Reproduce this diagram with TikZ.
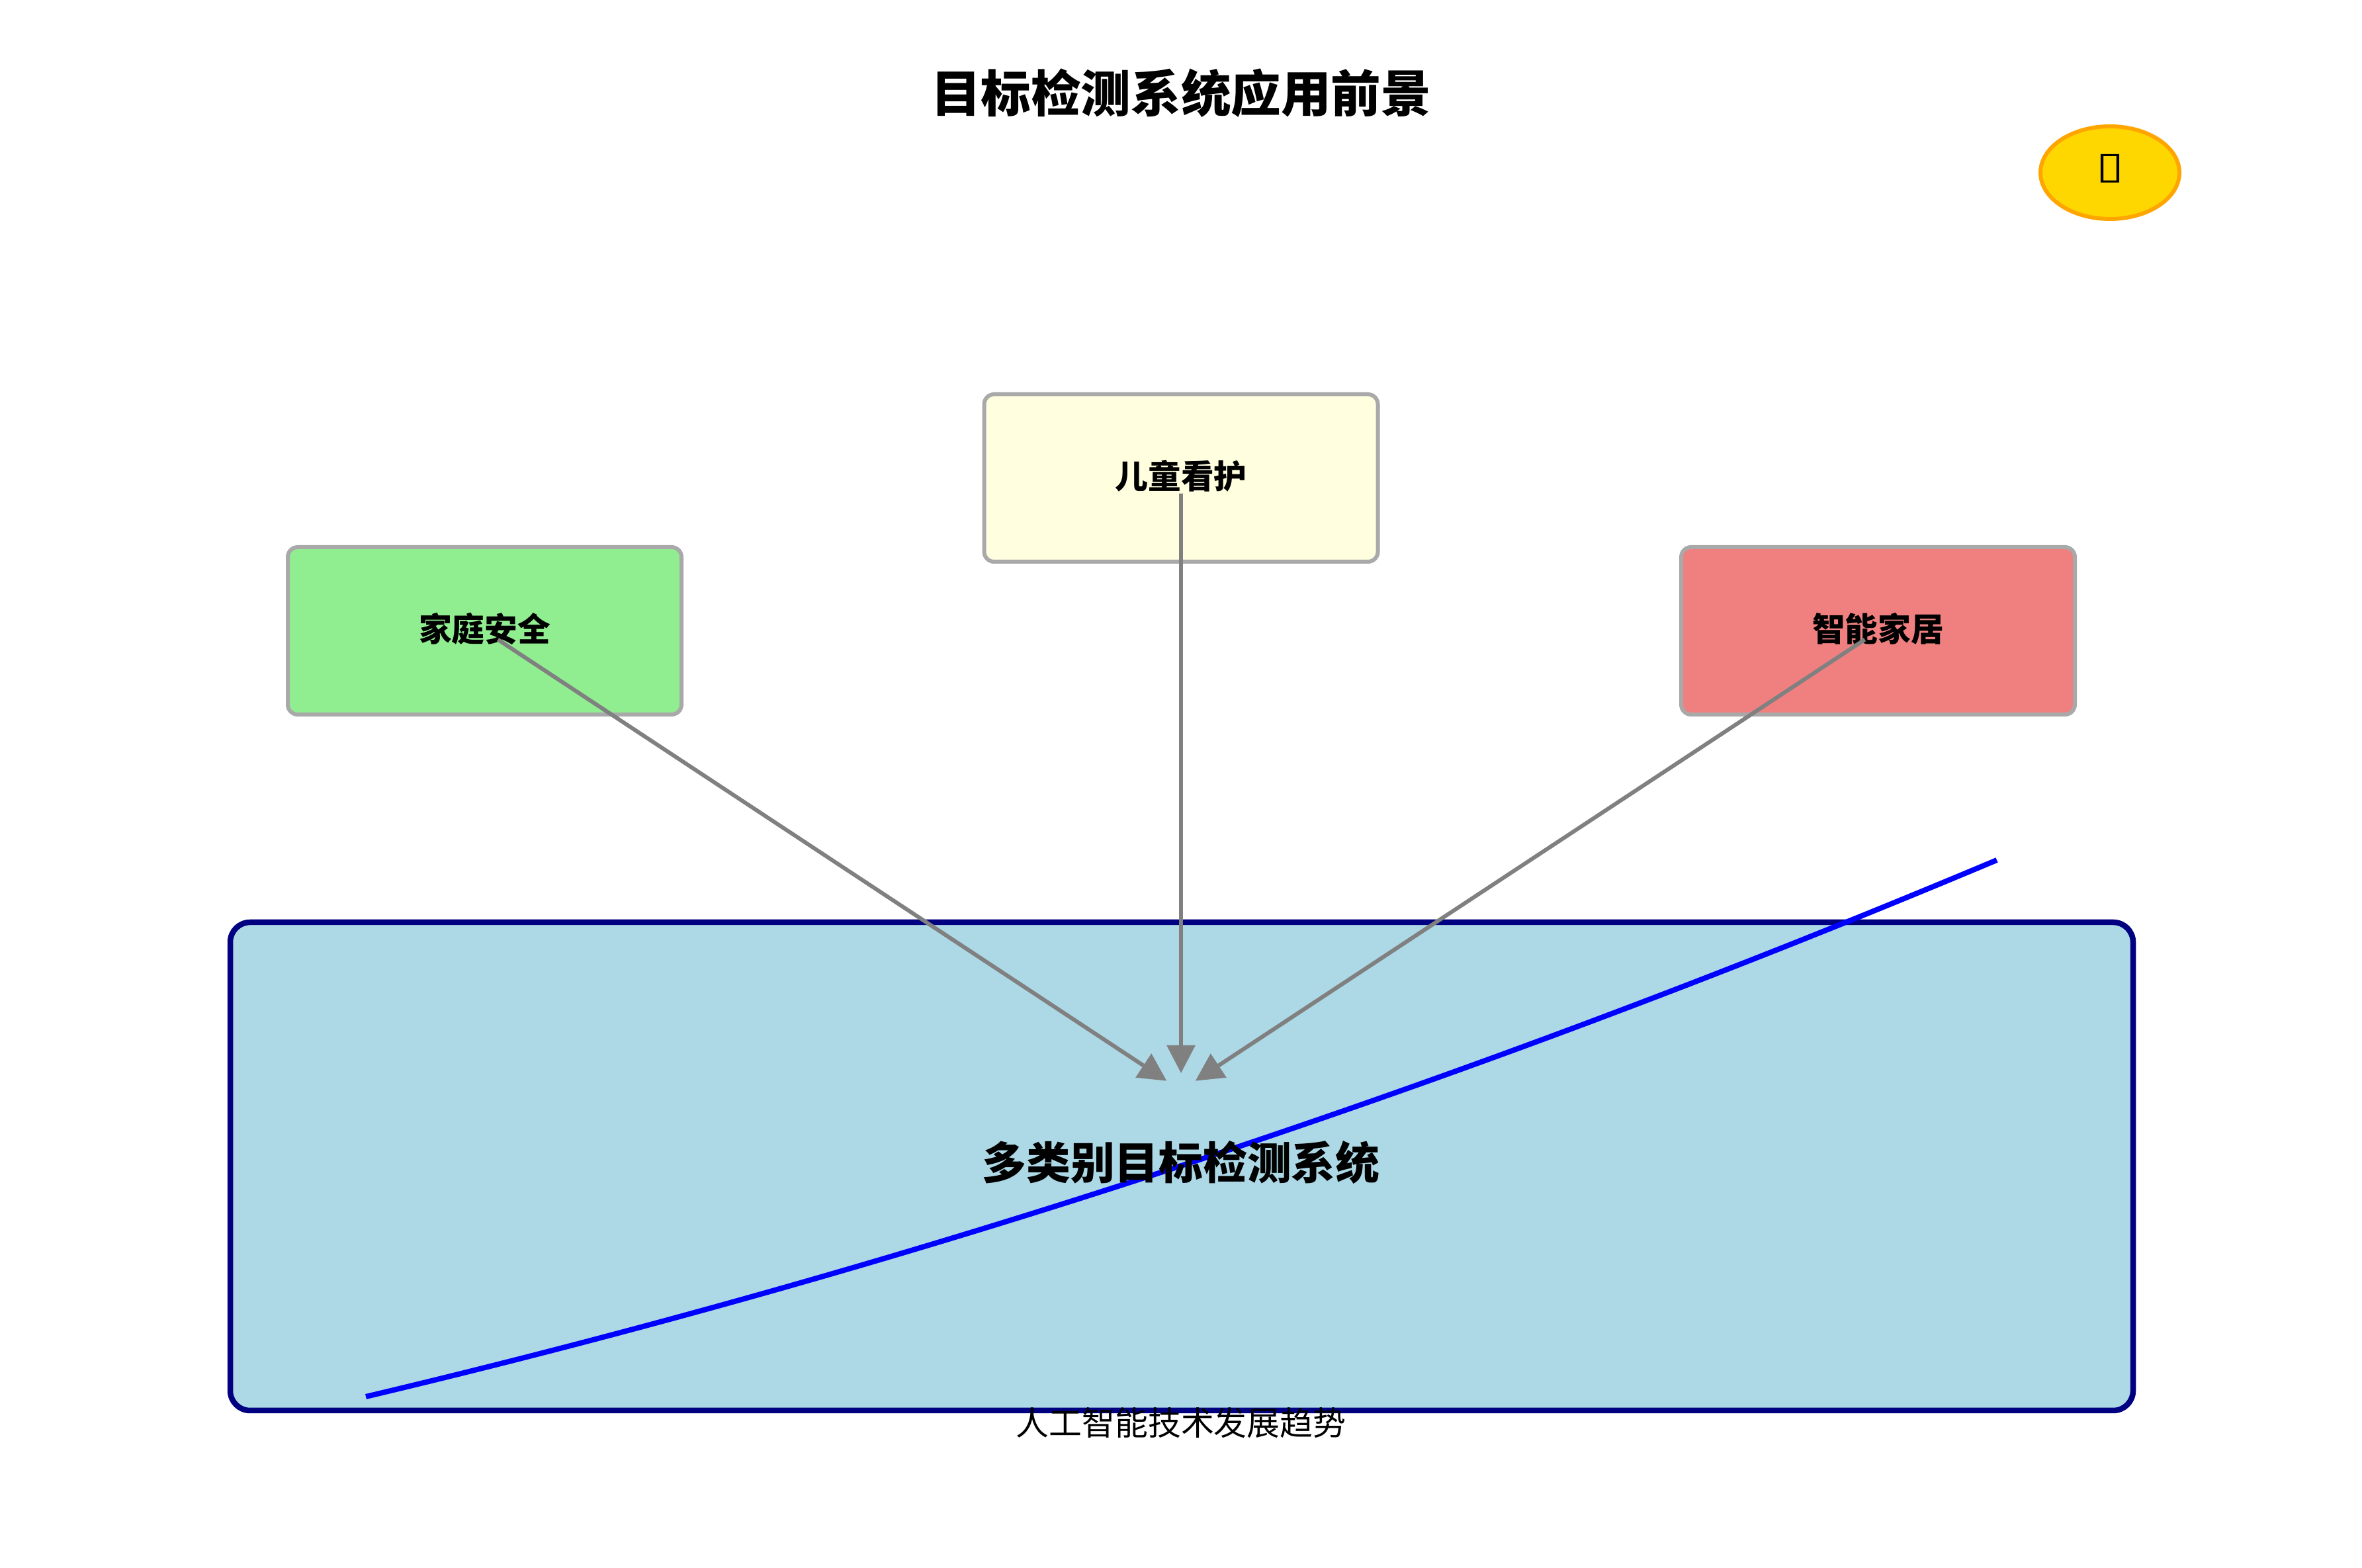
\documentclass[tikz,border=0pt]{standalone}
\usepackage{fontspec}
\usepackage{graphicx}
\usetikzlibrary{arrows.meta,shapes.geometric}
\newfontfamily\cjk{Noto Sans CJK SC}
\newfontfamily\symb{DejaVu Sans}

\definecolor{boxgray}{HTML}{A9A9A9}
\definecolor{skyfill}{HTML}{ADD8E6}
\definecolor{greenfill}{HTML}{90EE90}
\definecolor{yellowfill}{HTML}{FFFFE0}
\definecolor{coralfill}{HTML}{F08080}
\definecolor{goldfill}{HTML}{FFD700}
\definecolor{orangeline}{HTML}{FFA500}
\definecolor{navyline}{HTML}{000080}
\definecolor{arrowgray}{HTML}{808080}

\tikzset{
    appbox/.style={draw=boxgray, line width=0.06cm, rounded corners=0.15cm, minimum width=5.95cm,
        minimum height=2.53cm, inner sep=0pt, text height=0.44cm, text depth=0.12cm,
        font=\cjk\bfseries\fontsize{14.15pt}{16pt}\selectfont},
    flowline/.style={->, draw=arrowgray, line width=0.06cm, shorten <=0.24cm, shorten >=0.26cm},
}

\begin{document}
\begin{tikzpicture}[>={Triangle[length=0.42cm, width=0.42cm]}]
    \useasboundingbox (0, 0) rectangle (35.7, 23.7);

    % 1. Title and badge
    \node (title) at (17.85, 22.29) {\cjk\bfseries\fontsize{21.5pt}{24pt}\selectfont 目标检测系统应用前景};
    \node[ellipse, draw=orangeline, fill=goldfill, line width=0.06cm, minimum width=2.1cm, minimum height=1.4cm,
        inner sep=0pt] (badge) at (31.89, 21.09) {};
    \node[inner sep=0pt] (badgemark) at (31.89, 21.15) {\symb\resizebox*{0.42cm}{0.43cm}{▯}};

    % 2. Main box (label comes last, it lies over the curve)
    \node[draw=navyline, fill=skyfill, line width=0.085cm, rounded corners=0.3cm, minimum width=28.76cm,
        minimum height=7.38cm, inner sep=0pt] (system) at (17.86, 6.07) {};

    % 3. Application boxes
    \node[appbox, fill=greenfill] (safety) at (7.325, 14.165) {家庭安全};
    \node[appbox, fill=yellowfill] (childcare) at (17.85, 16.475) {儿童看护};
    \node[appbox, fill=coralfill] (smarthome) at (28.385, 14.165) {智能家居};

    % 4. Arrows into the main box
    \coordinate (hub) at (17.85, 7.22);
    \draw[flowline] (safety.center) -- (hub);
    \draw[flowline] (childcare.center) -- (hub);
    \draw[flowline] (smarthome.center) -- (hub);

    % 5. Trend curve
    \coordinate (trendstart) at (5.53, 2.59);
    \coordinate (trendend) at (30.18, 10.70);
    \draw[blue, line width=0.08cm] (trendstart) .. controls (13.74, 4.54) and (21.96, 7.243) .. (trendend);

    % 6. Labels on top
    \node (systemlabel) at (17.85, 6.13) {\cjk\bfseries\fontsize{19pt}{22pt}\selectfont 多类别目标检测系统};
    \node (trendlabel) at (17.85, 2.19) {\cjk\fontsize{14.2pt}{16pt}\selectfont 人工智能技术发展趋势};
\end{tikzpicture}
\end{document}
